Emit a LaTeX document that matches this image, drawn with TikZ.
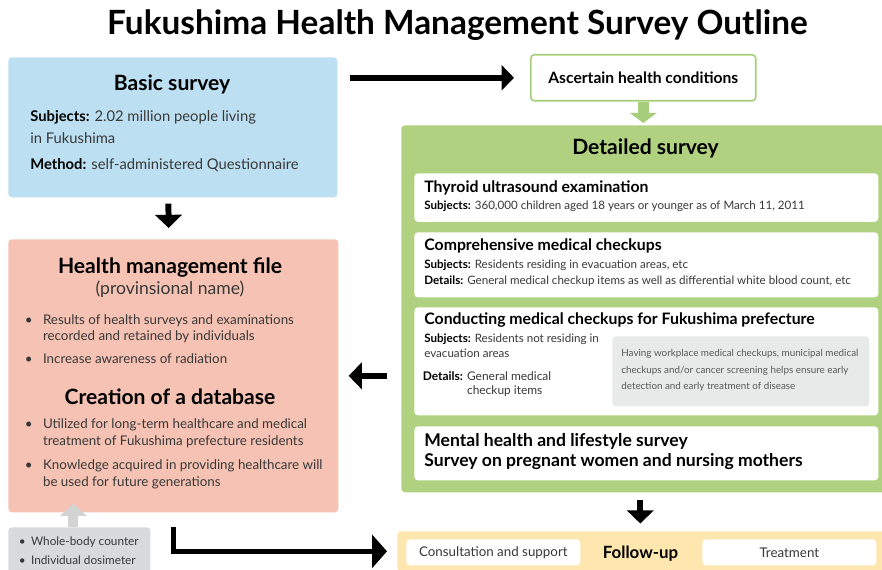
\documentclass[tikz,border=0pt]{standalone}
\usepackage{fontspec}
\setmainfont{Lato}
\usetikzlibrary{arrows.meta,positioning}
\definecolor{basicblue}{HTML}{BCE0F2}
\definecolor{filesalmon}{HTML}{F5C2B3}
\definecolor{surveygreen}{HTML}{B0D17F}
\definecolor{greenline}{HTML}{A6CE7B}
\definecolor{followyellow}{HTML}{FEE6AF}
\definecolor{dosegray}{HTML}{D9DADB}
\definecolor{notegray}{HTML}{E8E9E9}
\definecolor{arrowgray}{HTML}{D3D3D3}
\definecolor{bodytext}{HTML}{383838}
\newcommand{\fieldname}[1]{\textcolor{black}{\textbf{#1}}}
\tikzset{
    panel/.style={
    rectangle,rounded corners=2pt,anchor=north west,inner sep=0pt
    },
    card/.style={
    panel,fill=white,minimum width=9.28cm
    },
    heading/.style={
    anchor=base,inner sep=0pt,font=\fontsize{12}{14}\selectfont\bfseries
    },
    bodyline/.style={
    anchor=base west,inner sep=0pt,align=left,text=bodytext,
    font=\fontsize{7.6}{9.45}\selectfont
    },
    cardtitle/.style={
    anchor=base west,inner sep=0pt,align=left,font=\fontsize{9}{10}\selectfont\bfseries
    },
    detail/.style={
    anchor=base west,inner sep=0pt,align=left,text=bodytext,
    font=\fontsize{6.6}{8.3}\selectfont
    },
    blockarrow/.style={
    line width=3.4pt,-{Triangle[width=15pt,length=7.5pt]}
    },
}

\begin{document}
\begin{tikzpicture}[x=0.02cm,y=-0.02cm]
   \useasboundingbox (0,0) rectangle (882,570);
   \clip (0,0) rectangle (882,570);
   \node[anchor=base,font=\fontsize{19}{22}\selectfont\bfseries] (title) at (457.5,35) {Fukushima Health Management Survey Outline};

   \node[panel,fill=basicblue,minimum width=6.58cm,minimum height=2.8cm] (basic) at (8,57) {};
   \node[heading] (basichead) at (172,90.7) {Basic survey};
   \node[bodyline,font=\fontsize{8.4}{12.2}\selectfont] (basicsubj) at (30,143.3) {\fieldname{Subjects:} 2.02 million people living\\in Fukushima};
   \node[bodyline,font=\fontsize{8.4}{10}\selectfont] (basicmeth) at (30,170) {\fieldname{Method:} self-administered Questionnaire};

   \node[panel,fill=filesalmon,minimum width=6.6cm,minimum height=5.46cm] (file) at (8,239) {};
   \node[heading] (filehead) at (170,273.3) {Health management file};
   \node[anchor=base,inner sep=0pt,text=bodytext,font=\fontsize{10}{12}\selectfont] (filenote) at (170,295) {(provinsional name)};
   \node[bodyline] (fileone) at (42.7,341) {\llap{\textbullet\hspace{6pt}}Results of health surveys and examinations\\recorded and retained by individuals};
   \node[bodyline] (filetwo) at (42.7,364) {\llap{\textbullet\hspace{6pt}}Increase awareness of radiation};
   \node[heading] (dbhead) at (170,405) {Creation of a database};
   \node[bodyline] (dbone) at (42.7,445.5) {\llap{\textbullet\hspace{6pt}}Utilized for long-term healthcare and medical\\treatment of Fukushima prefecture residents};
   \node[bodyline] (dbtwo) at (42.7,486.5) {\llap{\textbullet\hspace{6pt}}Knowledge acquired in providing healthcare will\\be used for future generations};

   \node[panel,fill=dosegray,minimum width=2.84cm,minimum height=1cm] (dose) at (8,527) {};
   \node[bodyline,font=\fontsize{6.7}{10.4}\selectfont] (dosetext) at (30.7,564) {\llap{\textbullet\hspace{3pt}}Whole-body counter\\\llap{\textbullet\hspace{3pt}}Individual dosimeter};

   \node[panel,fill=followyellow,minimum width=9.86cm,minimum height=0.8cm] (band) at (397,531) {};
   \node[panel,fill=white,text=bodytext,minimum width=3.48cm,minimum height=0.52cm,font=\fontsize{7.6}{10}\selectfont] (consult) at (406,539) {Consultation and support};
   \node[anchor=base,inner sep=0pt,font=\fontsize{9.6}{11}\selectfont\bfseries] (followhead) at (640.5,558) {Follow-up};
   \node[panel,fill=white,text=bodytext,minimum width=3.48cm,minimum height=0.52cm,font=\fontsize{7.6}{10}\selectfont] (treat) at (702,539) {Treatment};

   \node[panel,draw=greenline,line width=0.9pt,fill=white,minimum width=4.5cm,minimum height=0.92cm,font=\fontsize{8.9}{10}\selectfont\bfseries] (ascertain) at (530,54) {Ascertain health conditions};

   \node[panel,fill=surveygreen,minimum width=9.7cm,minimum height=7.34cm] (detailed) at (401,125) {};
   \node[heading] (detailedhead) at (645.5,155) {Detailed survey};

   \node[card,minimum height=0.97cm] (thyroid) at (414,173) {};
   \node[cardtitle] (thyroidhead) at (424,192.7) {Thyroid ultrasound examination};
   \node[detail] (thyroidsubj) at (424,210) {\fieldname{Subjects:} 360,000 children aged 18 years or younger as of March 11, 2011};

   \node[card,minimum height=1.3cm] (comp) at (414,232) {};
   \node[cardtitle] (comphead) at (424,251) {Comprehensive medical checkups};
   \node[detail] (compsubj) at (424,268.3) {\fieldname{Subjects:} Residents residing in evacuation areas, etc};
   \node[detail] (compdet) at (424,285) {\fieldname{Details:} General medical checkup items as well as differential white blood count, etc};

   \node[card,minimum height=2.16cm] (cond) at (414,307) {};
   \node[cardtitle] (condhead) at (424,325) {Conducting medical checkups for Fukushima prefecture};
   \node[detail] (condsubj) at (424,357.3) {\fieldname{Subjects:} Residents not residing in\\evacuation areas};
   \node[detail,font=\fontsize{6.8}{8.5}\selectfont] (conddet) at (466.7,395) {\llap{\fieldname{Details:} }General medical\\checkup items};
   \node[panel,fill=notegray,minimum width=5.14cm,minimum height=1.4cm] (note) at (612,336) {};
   \node[detail,text=black!65,font=\fontsize{5.6}{9.45}\selectfont] (notetext) at (621,390) {Having workplace medical checkups, municipal medical\\checkups and/or cancer screening helps ensure early\\detection and early treatment of disease};

   \node[card,minimum height=1.08cm] (mental) at (414,426) {};
   \node[cardtitle,font=\fontsize{10}{11.3}\selectfont\bfseries] (mentalhead) at (424,466.7) {Mental health and lifestyle survey\\Survey on pregnant women and nursing mothers};

   \draw[blockarrow,shorten <=0.12cm,shorten >=0.22cm] ([xshift=-0.09cm]basic.south) -- ([xshift=-0.09cm]file.north);
   \draw[blockarrow,line width=3.6pt,-{Triangle[width=14pt,length=7pt]},shorten <=0.24cm,shorten >=0.32cm] (basic.east |- ascertain.west) -- (ascertain.west);
   \draw[greenline,line width=6.5pt,-{Triangle[width=15pt,length=5.7pt]},shorten >=0.04cm] (ascertain.south) -- (ascertain.south |- detailed.north);
   \draw[blockarrow,shorten <=0.28cm,shorten >=0.2cm] (detailed.west |- file.east) -- (file.east);
   \draw[blockarrow,shorten <=0.14cm,shorten >=0.15cm] ([xshift=-0.07cm]detailed.south) -- ([xshift=-0.07cm]detailed.south |- band.north);
   \draw[arrowgray,line width=5.7pt,-{Triangle[width=15pt,length=7pt]},shorten >=-0.18cm] ([xshift=-0.12cm]dose.north) -- ([xshift=-0.12cm]dose.north |- file.south);
   \draw[line width=2.8pt,-{Triangle[width=18.7pt,length=8.5pt]},shorten <=0.28cm,shorten >=0.2cm] (file.south) |- (band.west);
\end{tikzpicture}
\end{document}
